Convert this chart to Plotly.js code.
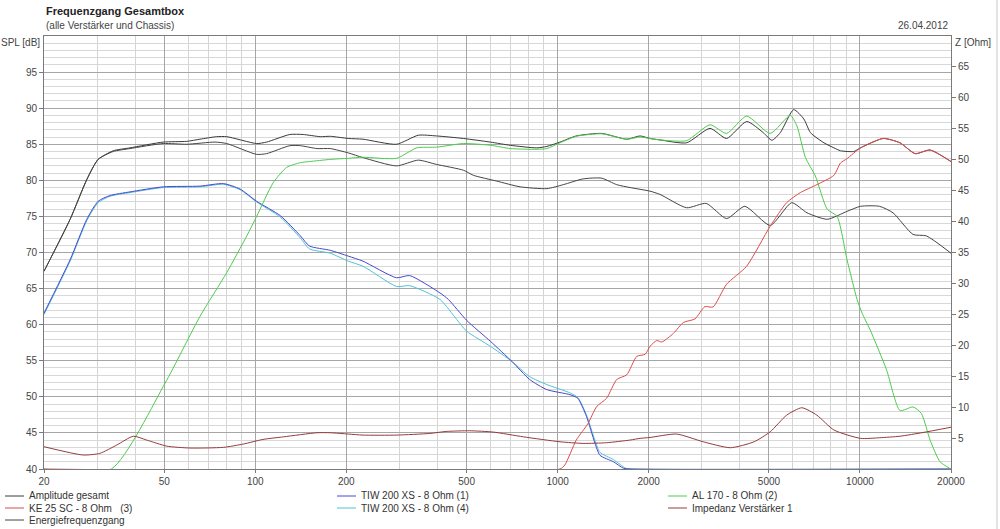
<!DOCTYPE html>
<html>
<head>
<meta charset="utf-8">
<script src="https://cdn.plot.ly/plotly-3.0.1.min.js"></script>
<style>
html,body{margin:0;padding:0;background:#fff;}
#chart{width:1000px;height:529px;}
</style>
</head>
<body>
<div id="chart"></div>
<script>
// ---------- data ----------
const freqAmp = [20,24.4,27.7,30.2,33.9,38.5,49.6,59.3,65.6,74.5,80.4,101,109,130,144,164,177,203,227,293,346,398,488,599,698,854,921,1018,1152,1398,1692,1873,2020,2180,2670,3190,3620,4218,4790,5112,5450,6036,6520,6860,7600,8200,8620,9540,10040,11940,13560,15220,17060,20000];
const splAmp  = [67.4,74.6,80.1,82.9,84.1,84.5,85.3,85.4,85.7,86.05,86.05,85.1,85.3,86.35,86.35,86.05,86.1,85.8,85.7,85.0,86.25,86.15,85.8,85.3,84.85,84.5,84.7,85.3,86.15,86.5,85.7,86.15,85.8,85.6,85.2,87.2,85.8,88.15,86.6,85.55,86.6,89.8,88.5,86.6,85.2,84.5,84.1,84.0,84.5,85.8,85.2,83.7,84.2,82.6];

const freqEnergy = [20,24.4,27.7,30.2,33.9,38.5,49.6,59.3,73.6,80.4,101,109,130,141,160,177,203,227,293,346,398,488,526,628,752,921,1044,1214,1398,1568,1736,2020,2180,2670,3100,3620,4160,5048,5940,6680,7790,9060,10040,11600,12860,14980,16580,20000];
const splEnergy  = [67.4,74.6,80.1,82.9,84.0,84.4,85.1,85.0,85.3,85.1,83.6,83.7,84.8,84.8,84.4,84.4,83.8,83.15,82.0,82.8,82.2,81.4,80.7,79.9,79.1,78.85,79.4,80.2,80.3,79.4,79.0,78.5,78.05,76.2,76.8,74.7,76.4,73.75,76.9,75.5,74.6,75.7,76.4,76.4,75.5,72.5,72.3,69.9];

const freqTiw1 = [20,24.4,27.7,30.2,33.1,38.5,49.6,65.6,78.4,89,101,121,141,151,177,203,227,293,324,408,435,500,599,706,808,921,1098,1166,1245,1328,1380,1530,1652,1750,20000];
const splTiw1  = [61.6,69.0,74.6,77.1,77.9,78.4,79.1,79.2,79.55,78.8,77.1,75.1,72.3,70.9,70.3,69.5,68.8,66.5,66.8,64.4,63.5,60.6,57.7,54.9,52.4,51.0,50.3,49.8,47.3,43.6,41.9,41.0,40.1,40,40];

const freqTiw4 = [20,24.4,27.7,30.2,33.1,38.5,49.6,65.6,78.4,89,101,121,141,151,177,203,227,293,324,408,464,500,599,706,808,921,1098,1166,1245,1328,1380,1530,1680,1780,20000];
const splTiw4  = [61.4,68.8,74.4,76.9,77.8,78.3,79.0,79.1,79.45,78.7,77.0,74.9,72.0,70.5,69.9,68.8,68.1,65.3,65.4,63.5,60.7,59.1,57.0,54.9,52.8,51.7,50.55,49.9,47.5,44.0,42.3,41.3,40.1,40,40];

const freqAl170 = [20,33.4,50.3,65.6,80.4,93.7,101,114.7,127,141,151,177,203,227,293,342,398,488,599,698,854,921,1018,1152,1398,1692,1873,2020,2180,2670,3190,3620,4218,5048,5880,6190,6600,7120,7790,8400,9060,9780,10160,10800,12240,13560,14980,15960,17060,18400,19800,20000];
const splAl170  = [40,40,51.9,61.15,67.2,72.3,75.0,79.7,81.8,82.45,82.6,82.9,83.05,83.2,83.05,84.5,84.6,85.1,84.86,84.4,84.3,84.4,85.2,86.1,86.45,85.7,86.0,85.8,85.6,85.5,87.7,86.5,88.9,86.5,89.0,87.5,83.15,80.6,76.0,75.0,69.0,63.5,61.6,59.3,53.75,48.1,48.6,47.7,44.0,41.0,40.1,40.0];

const freqKe25 = [20,1018,1056,1152,1260,1346,1452,1568,1692,1826,1948,2020,2128,2210,2416,2604,2846,3068,3265,3620,4218,5048,5720,6350,7200,8200,8620,9060,10040,11940,13560,15220,17060,20000];
const splKe25  = [40,40.0,40.55,44.0,46.3,48.65,49.8,52.4,53.05,55.6,55.9,57.0,57.8,57.6,58.8,60.3,60.8,62.5,62.45,65.6,68.1,73.65,76.9,78.3,79.4,80.7,82.4,83.0,84.5,85.8,85.2,83.7,84.2,82.6];

const freqImp = [20,27,30.6,34.8,39.5,43.7,50.9,60.8,78.4,91.2,106,124,160,177,203,227,293,378,428,512,612,770,1018,1214,1452,1736,1873,2020,2474,3030,3726,4464,5048,5720,6420,7200,8200,10040,11600,13560,16160,20000];
const ohmImp  = [3.6,2.26,2.53,3.87,5.3,4.68,3.7,3.39,3.5,4.03,4.78,5.2,5.86,5.86,5.65,5.48,5.48,5.75,6.07,6.18,5.97,5.2,4.4,4.14,4.25,4.68,4.95,5.1,5.65,4.4,3.44,4.4,6.02,8.7,9.9,8.7,6.3,4.95,5.05,5.3,5.9,6.75];

const xTickVals = [20,50,100,200,500,1000,2000,5000,10000,20000];
const xTickText = ['20','50','100','200','500','1000','2000','5000','10000','20000'];
const xMinorVals = [30,40,60,70,80,90,300,400,600,700,800,900,3000,4000,6000,7000,8000,9000];
const splTicks = [40,45,50,55,60,65,70,75,80,85,90,95];
const ohmTicks = [5,10,15,20,25,30,35,40,45,50,55,60,65];

const seriesNames = ['Amplitude gesamt','KE 25 SC - 8 Ohm   (3)','Energiefrequenzgang','TIW 200 XS - 8 Ohm (1)','TIW 200 XS - 8 Ohm (4)','AL 170 - 8 Ohm (2)','Impedanz Verstärker 1'];
const seriesColors = ['#3a3a3a','#e04a4a','#454545','#4848d0','#4cc4d4','#4ccc4c','#943c3c'];

// ---------- traces ----------
function tr(x,y,idx,axis){
  return {x:x,y:y,type:'scatter',mode:'lines',name:seriesNames[idx],yaxis:axis||'y',
    line:{color:seriesColors[idx],width:1,shape:'spline',smoothing:0.6},
    hoverinfo:'skip',showlegend:false,cliponaxis:true};
}
const data = [
  tr(freqImp,ohmImp,6,'y2'),
  tr(freqAmp,splAmp,0),
  tr(freqEnergy,splEnergy,2),
  tr(freqTiw4,splTiw4,4),
  tr(freqTiw1,splTiw1,3),
  tr(freqAl170,splAl170,5),
  tr(freqKe25,splKe25,1)
];

// ---------- layout helpers (pixel -> paper) ----------
const L=44, R=951, T=36, B=469;
const px = p => (p-L)/(R-L);
const py = p => (B-p)/(B-T);
const fnt = {family:'Liberation Sans, Arial, sans-serif', size:10, color:'#333'};

const annotations = [
  {text:'<b>Frequenzgang Gesamtbox</b>', x:px(44), y:py(11), xref:'paper', yref:'paper', xanchor:'left', yanchor:'middle', showarrow:false, font:{family:fnt.family,size:11,color:'#222'}},
  {text:'(alle Verstärker und Chassis)', x:px(44), y:py(25), xref:'paper', yref:'paper', xanchor:'left', yanchor:'middle', showarrow:false, font:{family:fnt.family,size:10,color:'#444'}},
  {text:'26.04.2012', x:px(950), y:py(25), xref:'paper', yref:'paper', xanchor:'right', yanchor:'middle', showarrow:false, font:{family:fnt.family,size:10,color:'#444'}},
  {text:'SPL [dB]', x:px(42), y:py(42), xref:'paper', yref:'paper', xanchor:'right', yanchor:'middle', showarrow:false, font:{family:fnt.family,size:10,color:'#444'}},
  {text:'Z [Ohm]', x:px(953), y:py(42), xref:'paper', yref:'paper', xanchor:'left', yanchor:'middle', showarrow:false, font:{family:fnt.family,size:10,color:'#444'}}
];
const shapes = [
  {type:'line', xref:'paper', yref:'paper', x0:px(997), x1:px(997), y0:py(0), y1:py(529), line:{color:'#c8c8c8',width:1}}
];

// legend built from the series names/colours (3 columns)
const legendCols = [[0,1,2],[3,4],[5,6]];
const colX = [5,337,668];
const rowY = [496,508,520];
legendCols.forEach((col,ci)=>{
  col.forEach((si,ri)=>{
    shapes.push({type:'line', xref:'paper', yref:'paper', x0:px(colX[ci]), x1:px(colX[ci]+19), y0:py(rowY[ri]), y1:py(rowY[ri]), line:{color:seriesColors[si],width:1}});
    annotations.push({text:seriesNames[si].replace(/   /g,'&nbsp;&nbsp;&nbsp;'), x:px(colX[ci]+22), y:py(rowY[ri]), xref:'paper', yref:'paper', xanchor:'left', yanchor:'middle', showarrow:false, font:fnt});
  });
});

const layout = {
  width:1000, height:529,
  margin:{l:L, r:1000-R, t:T, b:529-B, pad:0},
  paper_bgcolor:'#fff', plot_bgcolor:'#fff',
  font:fnt,
  showlegend:false,
  xaxis:{type:'log', range:[Math.log10(20),Math.log10(20000)], tickmode:'array', tickvals:xTickVals, ticktext:xTickText,
    showgrid:true, gridcolor:'#a6a6a6', gridwidth:1, zeroline:false,
    showline:true, linecolor:'#7a7a7a', mirror:true, ticks:'outside', ticklen:3, tickcolor:'#7a7a7a',
    tickfont:{family:fnt.family,size:10,color:'#444'},
    minor:{tickmode:'array', tickvals:xMinorVals, showgrid:true, gridcolor:'#d4d4d4', gridwidth:1, ticks:''}},
  yaxis:{range:[40,100], tickmode:'array', tickvals:splTicks, showgrid:true, gridcolor:'#a6a6a6', gridwidth:1, zeroline:false,
    showline:true, linecolor:'#7a7a7a', mirror:true, ticks:'outside', ticklen:4, tickcolor:'#7a7a7a',
    tickfont:{family:fnt.family,size:10,color:'#444'},
    minor:{dtick:1, tick0:40, showgrid:true, gridcolor:'#d8d8d8', gridwidth:1, ticks:''}},
  yaxis2:{range:[0,70], overlaying:'y', side:'right', tickmode:'array', tickvals:ohmTicks, showgrid:false, zeroline:false,
    showline:false, ticks:'outside', ticklen:4, tickcolor:'#7a7a7a',
    tickfont:{family:fnt.family,size:10,color:'#444'}},
  annotations:annotations,
  shapes:shapes
};

Plotly.newPlot('chart', data, layout, {displayModeBar:false, staticPlot:true});
</script>
</body>
</html>
